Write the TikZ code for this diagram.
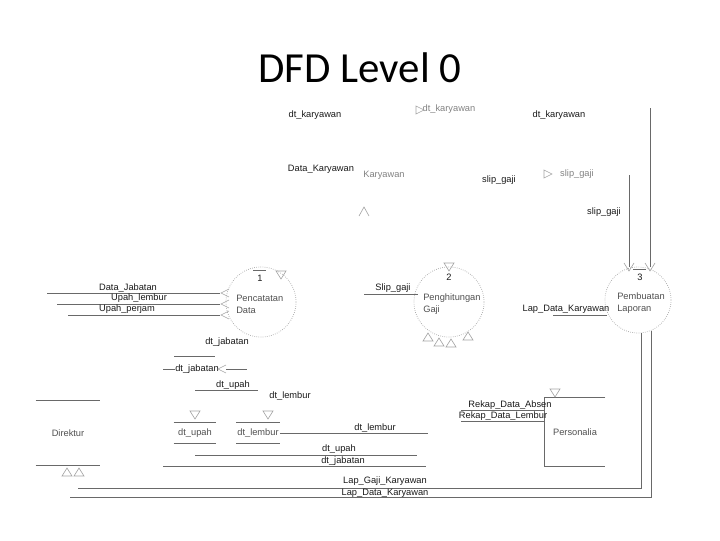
\documentclass[tikz,border=0pt]{standalone}
\usepackage{fontspec}
\setmainfont{Liberation Sans}
\newfontfamily\titlefont{Carlito}
\usetikzlibrary{positioning}
\definecolor{flowgray}{RGB}{105,105,105}
\definecolor{dotgray}{RGB}{165,165,165}
\definecolor{textgray}{RGB}{80,80,80}
\definecolor{faintgray}{RGB}{130,130,130}
\tikzset{
  lbl/.style={font=\fontsize{6.6}{8.6}\selectfont, inner sep=0pt, text=black!90},
  ptext/.style={lbl, anchor=west, align=left, text=textgray},
  flow/.style={draw=flowgray, line width=0.55pt},
  proc/.style={circle, draw=dotgray, densely dotted, line width=0.5pt,
               minimum size=1.75cm, inner sep=0pt},
  tri/.style={draw=dotgray, line width=0.45pt},
  tdown/.pic={\draw[tri] (-5,-4) -- (5,-4) -- (0,4) -- cycle;},
  tup/.pic={\draw[tri] (-5,4) -- (5,4) -- (0,-4) -- cycle;},
  tright/.pic={\draw[tri] (-4,-4) -- (4,0) -- (-4,4) -- cycle;},
  chevl/.pic={\draw[tri] (4,-4) -- (-4,0) -- (4,4);},
  chevv/.pic={\draw[tri] (-5,-5) -- (0,3) -- (5,-5);},
  chevup/.pic={\draw[tri] (-5,4) -- (0,-5) -- (5,4);}
}

\begin{document}
\begin{tikzpicture}[x=0.025cm, y=-0.025cm]
\useasboundingbox (0,0) rectangle (720,540);

% ── Title ─────────────────────────────────────────────────────────────────────
\node[font=\titlefont\fontsize{30.5}{34}\selectfont] (title) at (360,68) {DFD Level 0};

% ── Processes ─────────────────────────────────────────────────────────────────
\node[proc] (p1) at (261,302) {};
\node[proc] (p2) at (449,302) {};
\node[proc, minimum size=1.65cm] (p3) at (638,300) {};
\node[ptext] (p1t) at (236,304) {Pencatatan\\Data};
\node[ptext] (p2t) at (423,304) {Penghitungan\\Gaji};
\node[ptext] (p3t) at (617,303) {Pembuatan\\Laporan};
\node[lbl] (p1n) at (260,278) {1};
\node[lbl] (p2n) at (449,277) {2};
\node[lbl] (p3n) at (640,277) {3};
\draw[flow] ([shift={(-7,-4)}]p1n.north) -- ([shift={(6,-4)}]p1n.north);
\draw[flow] ([shift={(-7,-4)}]p3n.north) -- ([shift={(6,-4)}]p3n.north);

% ── Entities and data stores ──────────────────────────────────────────────────
\node[lbl, text=textgray, minimum width=1.6cm, minimum height=1.625cm] (dir) at (68,433) {Direktur};
\draw[flow] (dir.north west) -- (dir.north east) (dir.south west) -- (dir.south east);
\node[lbl, text=textgray, minimum width=1.5cm, minimum height=1.7cm] (pers) at (575,432) {Personalia};
\draw[flow] (pers.north east) -- (pers.north west) -- (pers.south west) -- (pers.south east);
\node[lbl, text=textgray, minimum width=1.05cm, minimum height=0.525cm] (st1) at (195,433) {dt\_upah};
\node[lbl, text=textgray, minimum width=1.075cm, minimum height=0.525cm] (st2) at (258,433) {dt\_lembur};
\foreach \s in {st1, st2}
  \draw[flow] (\s.north west) -- (\s.north east) (\s.south west) -- (\s.south east);

% ── Flow lines ────────────────────────────────────────────────────────────────
\foreach \nm/\xa/\xb/\yy in {
    fa/47/220/293, fb/57/220/304, fc/68/220/315,
    fs/364/418/294, fl/553/607/315,
    fj1/174/215/356, fj2/163/175/369, fj3/226/247/369,
    fu/195/258/390, fd1/428/428/433,
    fd2/195/417/455, fd3/163/426/466,
    fr1/461/545/410, fr2/461/545/421}
{
  \coordinate (\nm-a) at (\xa,\yy);
  \coordinate (\nm-b) at (\xb,\yy);
  \draw[flow] (\nm-a) -- (\nm-b);
}
\draw[flow] (st2.east) -- (fd1-b);

% report lines round to Direktur
\coordinate (lg) at (78,488);
\coordinate (ld) at (70,497);
\draw[flow] (lg) -| (p3.-84);
\draw[flow] (ld) -| (p3.-67);

% lines from the top into process 3
\coordinate (sg) at (629,175);
\coordinate (kt) at (650,108);
\draw[flow] (sg) -- (sg |- p3.north);
\draw[flow] (kt) -- (kt |- p3.north);

% ── Labels ────────────────────────────────────────────────────────────────────
\foreach \nm/\xx/\yy/\txt in {
    kar1/315/115/dt\_karyawan, kar3/559/115/dt\_karyawan,
    dkar/321/169/Data\_Karyawan, slip1/499/180/slip\_gaji,
    slip3/604/212/slip\_gaji,
    ljab/128/288/Data\_Jabatan, llem/139/298/Upah\_lembur,
    lper/127/309/Upah\_perjam, lslip/393/288/Slip\_gaji,
    llap/566/309/Lap\_Data\_Karyawan,
    ljab2/227/342/dt\_jabatan, ljab1/197/369/dt\_jabatan,
    lupah/233/385/dt\_upah, llemb/290/396/dt\_lembur,
    llemb2/375/428/dt\_lembur, lupah2/339/449/dt\_upah,
    ljab3/343/461/dt\_jabatan,
    labs/510/405/Rekap\_Data\_Absen, lrlem/503/416/Rekap\_Data\_Lembur,
    lgaji/385/481/Lap\_Gaji\_Karyawan, ldata/385/493/Lap\_Data\_Karyawan}
  \node[lbl] (\nm) at (\xx,\yy) {\txt};

\node[lbl, text=faintgray] (kar2) at (449,109) {dt\_karyawan};
\node[lbl, text=faintgray] (karent) at (384,175) {Karyawan};
\node[lbl, text=faintgray] (slip2) at (577,174) {slip\_gaji};

% ── Arrow heads ───────────────────────────────────────────────────────────────
\pic at (420,110) {tright};
\pic at (548,174) {tright};
\pic at (364,212) {chevup};
\foreach \yy in {293, 304, 315} \pic at (225,\yy) {chevl};
\pic at (222,369) {chevl};
\pic at (281,275) {tdown};
\pic at (449,267) {tdown};
\foreach \xx/\yy in {428/337, 439/342, 451/343, 468/336} \pic at (\xx,\yy) {tup};
\pic at (629,268) {chevv};
\pic at (650,268) {chevv};
\pic at (195,415) {tdown};
\pic at (268,415) {tdown};
\pic at (555,393) {tdown};
\pic at (67,472) {tup};
\pic at (79,472) {tup};

\end{tikzpicture}
\end{document}
